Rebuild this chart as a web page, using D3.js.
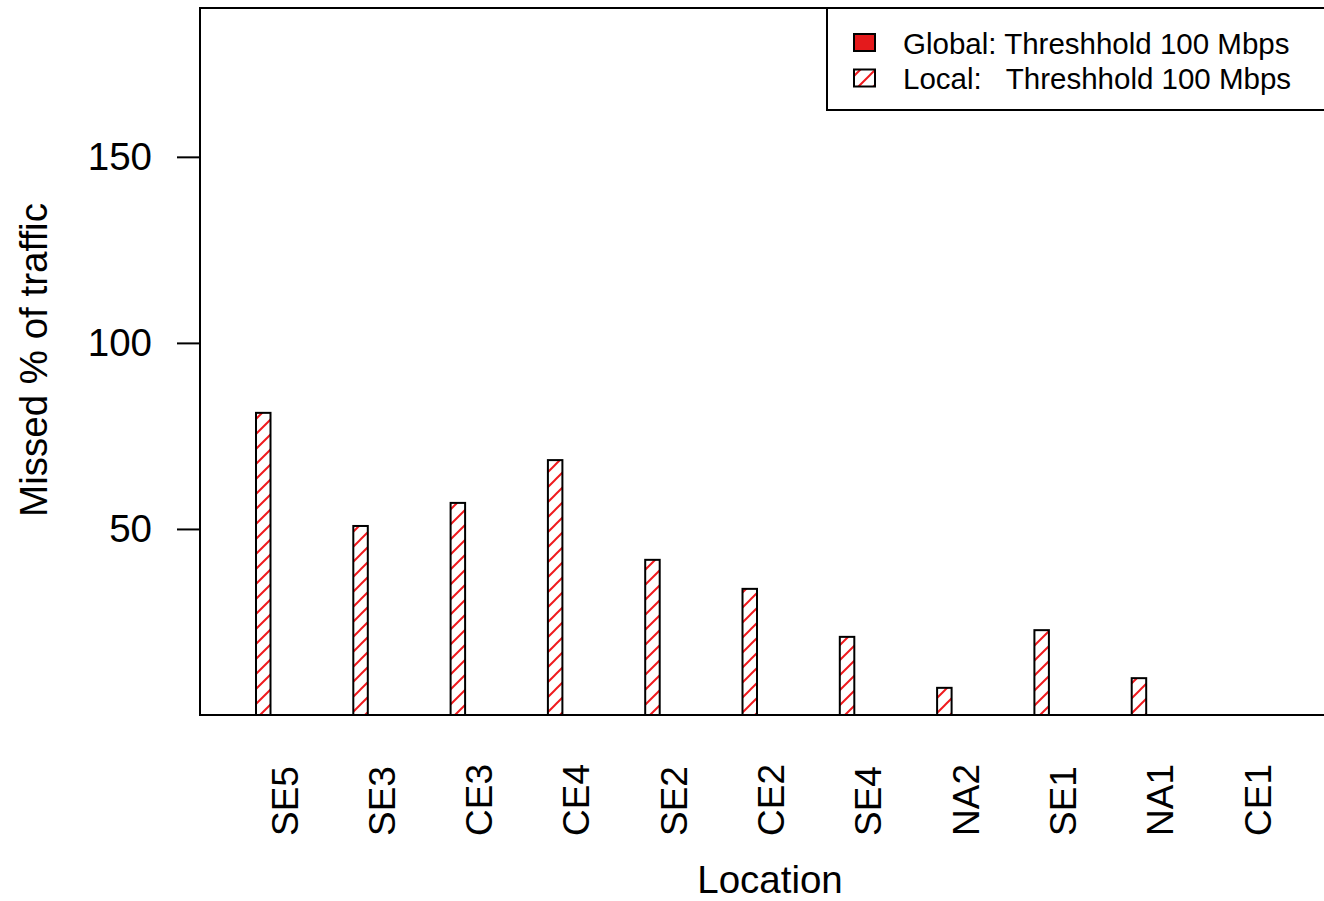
<!DOCTYPE html>
<html><head><meta charset="utf-8">
<script src="https://cdn.jsdelivr.net/npm/d3@7"></script>
<style>html,body{margin:0;padding:0;background:#fff;}svg{display:block;font-family:"Liberation Sans",Arial,sans-serif;}</style>
</head><body>
<script>
const categories = ["SE5","SE3","CE3","CE4","SE2","CE2","SE4","NA2","SE1","NA1","CE1"];
const globalValues = [0,0,0,0,0,0,0,0,0,0,0];
const localValues = [81.2,50.8,57.0,68.5,41.7,33.9,21.0,7.3,22.8,9.9,0];
const seriesNames = ["Global: Threshhold 100 Mbps","Local:   Threshhold 100 Mbps"];
const yTicks = [50,100,150];
const yMax = 190;

const W = 1324, H = 901;
const plotL = 200, plotT = 8, plotB = 715, plotR = 1340;
const red = "#E41A1C";

const svg = d3.select("body").append("svg").attr("width",W).attr("height",H);
const defs = svg.append("defs");
const pat = defs.append("pattern").attr("id","hatch").attr("patternUnits","userSpaceOnUse")
  .attr("width",15).attr("height",15);
pat.append("rect").attr("width",15).attr("height",15).attr("fill","#fff");
pat.append("path").attr("d","M0,15 L15,0 M-3,3 L3,-3 M12,18 L18,12")
  .attr("stroke","#F01A1E").attr("stroke-width",2);

const y = d3.scaleLinear().domain([0,yMax]).range([plotB,plotT]);
const x = d3.scaleBand().domain(categories).range([236.35,1306.65]).paddingInner(0.106).paddingOuter(0.053);
const sub = d3.scaleBand().domain(d3.range(6)).range([0,x.bandwidth()]);

// global bars (zero height)
svg.append("g").selectAll("rect").data(categories).join("rect")
  .attr("x",(d)=>x(d)+sub(0)).attr("width",sub.bandwidth())
  .attr("y",(d,i)=>y(globalValues[i])).attr("height",(d,i)=>y(0)-y(globalValues[i]))
  .attr("fill",red).attr("stroke","#000").attr("stroke-width",1.5);
// local bars
svg.append("g").selectAll("rect").data(categories).join("rect")
  .filter((d,i)=>localValues[i]>0)
  .attr("x",(d)=>x(d)+sub(1)).attr("width",sub.bandwidth())
  .attr("y",(d,i)=>y(localValues[i])).attr("height",(d,i)=>y(0)-y(localValues[i]))
  .attr("fill","url(#hatch)").attr("stroke","#000").attr("stroke-width",2);

// box
svg.append("path").attr("d",`M${plotR},${plotT} L${plotL},${plotT} L${plotL},${plotB} L${plotR},${plotB}`)
  .attr("fill","none").attr("stroke","#000").attr("stroke-width",2);

// y axis
const yAxis = d3.axisLeft(y).tickValues(yTicks).tickSize(23).tickPadding(25).tickFormat(d3.format("d"));
const gy = svg.append("g").attr("transform",`translate(${plotL},0)`).call(yAxis);
gy.select(".domain").remove();
gy.selectAll(".tick line").attr("stroke","#000").attr("stroke-width",2);
gy.selectAll(".tick text").attr("font-size",38.5).attr("fill","#000").attr("font-family","Liberation Sans, Arial, sans-serif");

// x labels
svg.append("g").selectAll("text").data(categories).join("text")
  .attr("transform",d=>`translate(${x(d)+x.bandwidth()/2},836) rotate(-90)`)
  .attr("text-anchor","start").attr("dominant-baseline","central")
  .attr("font-size",37).attr("fill","#000").text(d=>d);

// axis titles
svg.append("text").attr("x",770).attr("y",893).attr("text-anchor","middle")
  .attr("font-size",38.5).attr("fill","#000").text("Location");
svg.append("text").attr("transform","translate(47,360) rotate(-90)").attr("text-anchor","middle")
  .attr("font-size",38.5).attr("fill","#000").text("Missed % of traffic");

// legend
const lg = svg.append("g");
lg.append("rect").attr("x",827).attr("y",plotT).attr("width",520).attr("height",102)
  .attr("fill","#fff").attr("stroke","#000").attr("stroke-width",2);
const fills = [red,"url(#hatch)"];
seriesNames.forEach((s,i)=>{
  const cy = 43 + i*35.5;
  lg.append("rect").attr("x",854).attr("y",cy-9).attr("width",21).attr("height",17)
    .attr("fill",fills[i]).attr("stroke","#000").attr("stroke-width",2);
  lg.append("text").attr("x",903).attr("y",cy).attr("dominant-baseline","central")
    .attr("font-size",29.5).attr("fill","#000").style("white-space","pre").attr("xml:space","preserve").text(s);
});
</script>
</body></html>
